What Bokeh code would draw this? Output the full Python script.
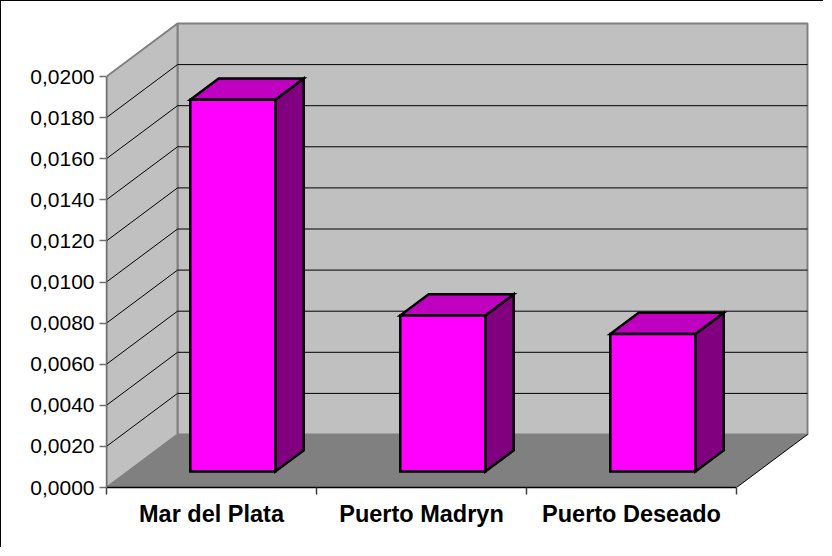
from bokeh.plotting import figure
from bokeh.models import Range1d, FixedTicker
from bokeh.embed import file_html
from bokeh.resources import INLINE

# ---------------- data ----------------
categories = ["Mar del Plata", "Puerto Madryn", "Puerto Deseado"]
values = [0.0181, 0.0076, 0.0067]
y_tick_labels = ["0,0000", "0,0020", "0,0040", "0,0060", "0,0080", "0,0100",
                 "0,0120", "0,0140", "0,0160", "0,0180", "0,0200"]
y_ticks = [float(s.replace(",", ".")) for s in y_tick_labels]
y_max = y_ticks[-1]
n = len(categories)

# ---------------- layout / 3D projection ----------------
PX_PER_CAT = 210.0
PX_PER_UNIT_Y = 20550.0
DEPTH_X_PX, DEPTH_Y_PX = 71.0, 53.0
dx = DEPTH_X_PX / PX_PER_CAT          # depth offset in x (category units)
dy = DEPTH_Y_PX / PX_PER_UNIT_Y       # depth offset in y (value units)
f_front, f_back = 0.30, 0.70          # bar depth positions
half_w = 85.0 / PX_PER_CAT / 2

W, H = 823, 547
ml, mr, mt, mb = 105, 12, 19, 61
frame_w = W - ml - mr
frame_h = H - mt - mb

p = figure(width=W, height=H, output_backend="svg", toolbar_location=None,
           x_range=Range1d(0, frame_w / PX_PER_CAT),
           y_range=Range1d(0, frame_h / PX_PER_UNIT_Y),
           min_border_left=ml, min_border_right=mr,
           min_border_top=mt, min_border_bottom=mb)
p.outline_line_color = None
p.grid.visible = False
p.background_fill_color = "white"
p.border_fill_color = "white"
p.styles = {"border-top": "1px solid black", "border-left": "1px solid black"}

WALL = "#C0C0C0"
FLOOR = "#808080"
EDGE = "#808080"

# back wall
p.patch([dx, n + dx, n + dx, dx], [dy, dy, y_max + dy, y_max + dy],
        fill_color=WALL, line_color=EDGE, line_width=2)
# left wall
p.patch([0, dx, dx, 0], [0, dy, y_max + dy, y_max],
        fill_color=WALL, line_color=EDGE, line_width=2)
# floor
p.patch([0, n, n + dx, dx], [0, 0, dy, dy], fill_color=FLOOR, line_color=None)
p.line([n, n + dx], [0, dy], line_color="black", line_width=1)

# gridlines
grid_vals = [t for t in y_ticks if 0 < t < y_max]
p.multi_line([[dx, n + dx] for _ in grid_vals], [[t + dy, t + dy] for t in grid_vals],
             line_color="black", line_width=1)
p.multi_line([[0, dx] for _ in grid_vals], [[t, t + dy] for t in grid_vals],
             line_color="black", line_width=1)

# bars
front_x, front_y, top_x, top_y, side_x, side_y = [], [], [], [], [], []
for i, v in enumerate(values):
    c = i + 0.5
    x0f, x1f = c - half_w + f_front * dx, c + half_w + f_front * dx
    x0b, x1b = c - half_w + f_back * dx, c + half_w + f_back * dx
    y0f, y0b = f_front * dy, f_back * dy
    front_x.append([x0f, x1f, x1f, x0f]); front_y.append([y0f, y0f, v + y0f, v + y0f])
    top_x.append([x0f, x1f, x1b, x0b]); top_y.append([v + y0f, v + y0f, v + y0b, v + y0b])
    side_x.append([x1f, x1b, x1b, x1f]); side_y.append([y0f, y0b, v + y0b, v + y0f])

for xs, ys, col in [(side_x, side_y, "#800080"), (top_x, top_y, "#C000C0"),
                    (front_x, front_y, "#FF00FF")]:
    p.patches(xs, ys, fill_color=col, line_color="black", line_width=2.5,
              line_join="miter")

# y axis
ya = p.yaxis[0]
ya.ticker = FixedTicker(ticks=y_ticks, minor_ticks=[])
ya.major_label_overrides = {t: s for t, s in zip(y_ticks, y_tick_labels)}
ya.bounds = (0, y_max)
ya.axis_line_color = "#707070"
ya.axis_line_width = 1.5
ya.major_tick_out = 7
ya.major_tick_in = 0
ya.major_tick_line_color = "#707070"
ya.major_tick_line_width = 1.5
ya.minor_tick_line_color = None
ya.major_label_text_font = "Liberation Sans"
ya.major_label_text_font_size = "21px"
ya.major_label_text_color = "black"
ya.major_label_standoff = 5

# x axis
xa = p.xaxis[0]
centers = [i + 0.5 for i in range(n)]
xa.ticker = FixedTicker(ticks=centers, minor_ticks=list(range(n + 1)))
xa.major_label_overrides = {c: s for c, s in zip(centers, categories)}
xa.bounds = (0, n)
xa.axis_line_color = "black"
xa.axis_line_width = 1.5
xa.major_tick_out = 0
xa.major_tick_in = 0
xa.minor_tick_out = 7
xa.minor_tick_in = 0
xa.minor_tick_line_color = "#404040"
xa.minor_tick_line_width = 1.5
xa.major_label_text_font = "Liberation Sans"
xa.major_label_text_font_style = "bold"
xa.major_label_text_font_size = "23.5px"
xa.major_label_text_color = "black"
xa.major_label_standoff = 6

open("out.html", "w").write(file_html(p, INLINE))
